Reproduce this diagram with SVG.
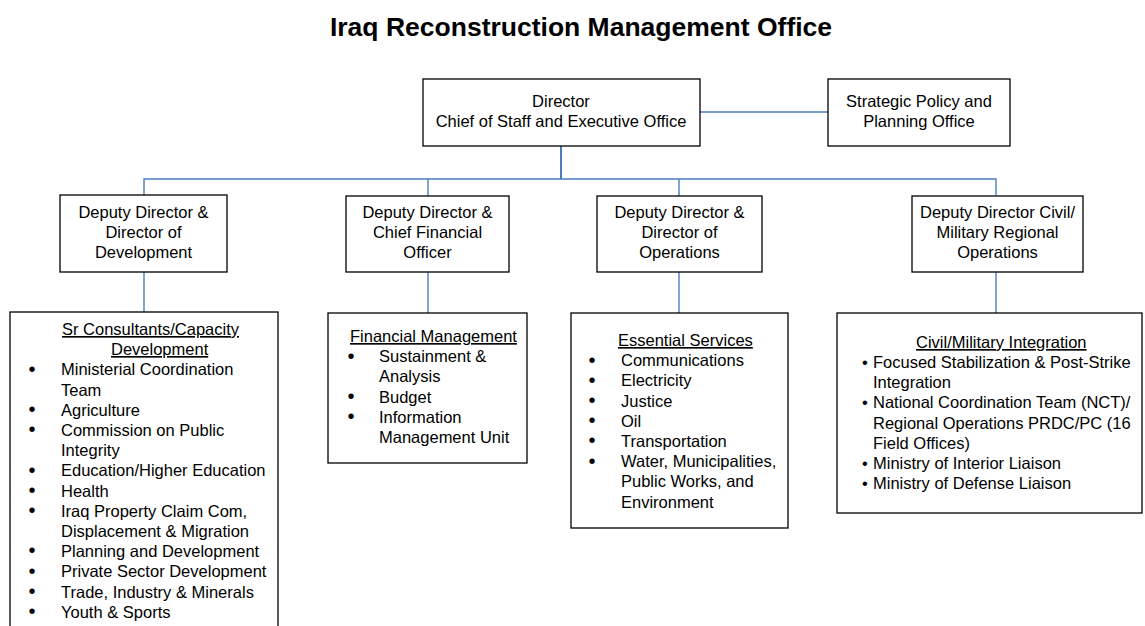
<svg xmlns="http://www.w3.org/2000/svg" width="1145" height="626" viewBox="0 0 1145 626">
<style>
text{font-family:"Liberation Sans",Arial,sans-serif;font-size:16.5px;fill:#000}
.title{font-size:26.5px;font-weight:bold}
.c{text-anchor:middle}
.u{text-decoration:underline}
.b{font-size:20px;text-anchor:middle}
.bs{font-size:16.5px}
.box{fill:#fff;stroke:#000;stroke-width:1.3}
.ln{stroke:#4a7ebb;stroke-width:1.4;fill:none}
.lnt{stroke:#4a7ebb;stroke-width:2;fill:none}
</style>
<rect width="1145" height="626" fill="#fff"/>
<text class="title c" x="581" y="36">Iraq Reconstruction Management Office</text>
<g id="connectors">
<line class="ln" x1="700" y1="112" x2="828" y2="112"/>
<line class="lnt" x1="561" y1="146" x2="561" y2="179"/>
<polyline class="ln" points="144,195 144,179 996,179 996,195"/>
<line class="ln" x1="428" y1="179" x2="428" y2="196"/>
<line class="ln" x1="679" y1="179" x2="679" y2="196"/>
<line class="ln" x1="144" y1="272" x2="144" y2="312"/>
<line class="ln" x1="428" y1="272" x2="428" y2="313"/>
<line class="ln" x1="679" y1="272" x2="679" y2="313"/>
<line class="ln" x1="996" y1="272" x2="996" y2="313"/>
</g>
<g id="director">
<rect class="box" x="423" y="79" width="277" height="67"/>
<text class="c" x="561" y="107">Director</text>
<text class="c" x="561" y="127">Chief of Staff and Executive Office</text>
</g>
<g id="strategic">
<rect class="box" x="828" y="79" width="182" height="67"/>
<text class="c" x="919" y="107">Strategic Policy and</text>
<text class="c" x="919" y="127">Planning Office</text>
</g>
<g id="dd-development">
<rect class="box" x="60" y="195" width="167" height="77"/>
<text class="c" x="143.5" y="218">Deputy Director &amp;</text>
<text class="c" x="143.5" y="238">Director of</text>
<text class="c" x="143.5" y="258">Development</text>
</g>
<g id="dd-cfo">
<rect class="box" x="346" y="196" width="163" height="76"/>
<text class="c" x="427.5" y="218">Deputy Director &amp;</text>
<text class="c" x="427.5" y="238">Chief Financial</text>
<text class="c" x="427.5" y="258">Officer</text>
</g>
<g id="dd-operations">
<rect class="box" x="597" y="196" width="165" height="76"/>
<text class="c" x="679.5" y="218">Deputy Director &amp;</text>
<text class="c" x="679.5" y="238">Director of</text>
<text class="c" x="679.5" y="258">Operations</text>
</g>
<g id="dd-civil-military">
<rect class="box" x="912" y="196" width="171" height="76"/>
<text class="c" x="997.5" y="218">Deputy Director Civil/</text>
<text class="c" x="997.5" y="238">Military Regional</text>
<text class="c" x="997.5" y="258">Operations</text>
</g>
<g id="sr-consultants">
<rect class="box" x="10" y="312" width="268" height="330"/>
<text class="u" x="62" y="335">Sr Consultants/Capacity</text>
<text class="u" x="111" y="355">Development</text>
<text class="b" x="32" y="376">•</text><text x="61" y="375.4">Ministerial Coordination</text>
<text x="61" y="395.6">Team</text>
<text class="b" x="32" y="416">•</text><text x="61" y="415.8">Agriculture</text>
<text class="b" x="32" y="436">•</text><text x="61" y="436">Commission on Public</text>
<text x="61" y="456.2">Integrity</text>
<text class="b" x="32" y="477">•</text><text x="61" y="476.4">Education/Higher Education</text>
<text class="b" x="32" y="497">•</text><text x="61" y="496.6">Health</text>
<text class="b" x="32" y="517">•</text><text x="61" y="516.8">Iraq Property Claim Com,</text>
<text x="61" y="537">Displacement &amp; Migration</text>
<text class="b" x="32" y="557">•</text><text x="61" y="557.2">Planning and Development</text>
<text class="b" x="32" y="578">•</text><text x="61" y="577.4">Private Sector Development</text>
<text class="b" x="32" y="598">•</text><text x="61" y="597.6">Trade, Industry &amp; Minerals</text>
<text class="b" x="32" y="618">•</text><text x="61" y="617.8">Youth &amp; Sports</text>
</g>
<g id="financial-management">
<rect class="box" x="328" y="313" width="199" height="150"/>
<text class="u" x="350" y="342">Financial Management</text>
<text class="b" x="351" y="363">•</text><text x="379" y="362.2">Sustainment &amp;</text>
<text x="379" y="382.4">Analysis</text>
<text class="b" x="351" y="403">•</text><text x="379" y="402.6">Budget</text>
<text class="b" x="351" y="423">•</text><text x="379" y="422.8">Information</text>
<text x="379" y="443">Management Unit</text>
</g>
<g id="essential-services">
<rect class="box" x="571" y="313" width="217" height="215"/>
<text class="u" x="618" y="346">Essential Services</text>
<text class="b" x="592" y="367">•</text><text x="621" y="366.2">Communications</text>
<text class="b" x="592" y="387">•</text><text x="621" y="386.4">Electricity</text>
<text class="b" x="592" y="407">•</text><text x="621" y="406.6">Justice</text>
<text class="b" x="592" y="427">•</text><text x="621" y="426.8">Oil</text>
<text class="b" x="592" y="447">•</text><text x="621" y="447">Transportation</text>
<text class="b" x="592" y="468">•</text><text x="621" y="467.2">Water, Municipalities,</text>
<text x="621" y="487.4">Public Works, and</text>
<text x="621" y="507.6">Environment</text>
</g>
<g id="civil-military-integration">
<rect class="box" x="837" y="313" width="305" height="200"/>
<text class="u" x="916" y="348">Civil/Military Integration</text>
<text class="bs" x="862" y="368">•</text><text x="873" y="368">Focused Stabilization &amp; Post-Strike</text>
<text x="873" y="388.2">Integration</text>
<text class="bs" x="862" y="408.4">•</text><text x="873" y="408.4">National Coordination Team (NCT)/</text>
<text x="873" y="428.6">Regional Operations PRDC/PC (16</text>
<text x="873" y="448.8">Field Offices)</text>
<text class="bs" x="862" y="469">•</text><text x="873" y="469">Ministry of Interior Liaison</text>
<text class="bs" x="862" y="489.2">•</text><text x="873" y="489.2">Ministry of Defense Liaison</text>
</g>
</svg>
